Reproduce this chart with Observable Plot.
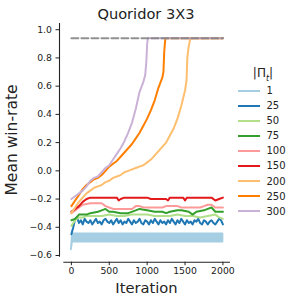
<!DOCTYPE html>
<html><head><meta charset="utf-8">
<script src="https://cdn.jsdelivr.net/npm/d3@7"></script>
<script src="https://cdn.jsdelivr.net/npm/@observablehq/plot@0.6"></script>
<style>
body{margin:0;background:#fff;font-family:"DejaVu Sans",sans-serif;color:#222}
#wrap{position:relative;width:297px;height:304px;overflow:hidden}
#chart{position:absolute;left:0;top:0}
.lbl{position:absolute;white-space:nowrap;line-height:1.15}
.row{position:absolute;left:238px;height:14px;display:flex;align-items:center;font-size:10px;transform:translateY(-50%)}
.sw{width:22px;height:2px;margin-right:6.5px}
</style></head><body>
<div id="wrap"><div id="chart"></div>
<div class="lbl" style="left:146px;top:14px;transform:translate(-50%,-50%);font-size:14.6px">Quoridor 3X3</div>
<div class="lbl" style="left:146.5px;top:288px;transform:translate(-50%,-50%);font-size:14.7px">Iteration</div>
<div class="lbl" style="left:13px;top:140px;transform:translate(-50%,-50%) rotate(-90deg);font-size:15.5px">Mean win-rate</div>
<div class="lbl" id="legtitle" style="left:263px;top:75px;transform:translate(-50%,-50%);font-size:12px">|Π<sub style="font-style:italic;font-size:8px">t</sub>|</div>
<div id="legend"></div>
</div>
<script>
const labels = ["1","25","50","75","100","150","200","250","300"];
const colors = ["#a6cee3","#1f78b4","#b2df8a","#33a02c","#fb9a99","#e31a1c","#fdbf6f","#ff7f00","#cab2d6"];
const xTicks = [0, 500, 1000, 1500, 2000];
const yTicks = [-0.6, -0.4, -0.2, 0.0, 0.2, 0.4, 0.6, 0.8, 1.0];
const xDomain = [-100, 2100];
const yDomain = [-0.612, 1.044];

// series 1: rapidly oscillating band (lower / upper envelope)
const s1Iter = [0, 15, 2000];
const s1Low  = [-0.56, -0.505, -0.505];
const s1High = [-0.56, -0.447, -0.447];

const s25Iter = [0,25,50,75,100,125,150,175,200,225,250,275,300,325,350,375,400,425,450,475,500,525,550,575,600,625,650,675,700,725,750,775,800,825,850,875,900,925,950,975,1000,1025,1050,1075,1100,1125,1150,1175,1200,1225,1250,1275,1300,1325,1350,1375,1400,1425,1450,1475,1500,1525,1550,1575,1600,1625,1650,1675,1700,1725,1750,1775,1800,1825,1850,1875,1900,1925,1950,1975,2000];
const s25Val = [-0.45,-0.40,-0.34,-0.33,-0.37,-0.35,-0.38,-0.34,-0.36,-0.37,-0.35,-0.38,-0.36,-0.34,-0.37,-0.36,-0.38,-0.35,-0.34,-0.36,-0.37,-0.35,-0.38,-0.36,-0.34,-0.37,-0.35,-0.38,-0.36,-0.37,-0.34,-0.36,-0.38,-0.35,-0.37,-0.36,-0.34,-0.37,-0.38,-0.35,-0.36,-0.38,-0.35,-0.37,-0.34,-0.36,-0.38,-0.35,-0.37,-0.36,-0.38,-0.35,-0.37,-0.34,-0.36,-0.38,-0.35,-0.37,-0.34,-0.36,-0.38,-0.35,-0.37,-0.36,-0.38,-0.35,-0.36,-0.34,-0.37,-0.38,-0.35,-0.36,-0.38,-0.36,-0.35,-0.37,-0.38,-0.36,-0.34,-0.35,-0.38];

const s50Iter = [0,50,100,150,200,250,300,400,500,600,700,800,900,1000,1100,1200,1300,1400,1500,1600,1700,1800,1900,1950,2000];
const s50Val  = [-0.39,-0.35,-0.33,-0.33,-0.32,-0.32,-0.32,-0.32,-0.31,-0.32,-0.32,-0.31,-0.31,-0.31,-0.32,-0.32,-0.32,-0.31,-0.32,-0.32,-0.33,-0.32,-0.31,-0.33,-0.34];

const s75Iter = [0,50,100,200,250,350,400,450,500,550,650,750,850,900,1000,1100,1200,1250,1300,1400,1450,1550,1600,1650,1750,1800,1850,1900,2000];
const s75Val  = [-0.35,-0.34,-0.31,-0.31,-0.30,-0.29,-0.28,-0.27,-0.29,-0.29,-0.30,-0.30,-0.28,-0.27,-0.28,-0.29,-0.29,-0.30,-0.29,-0.28,-0.28,-0.29,-0.31,-0.29,-0.28,-0.27,-0.26,-0.29,-0.29];

const s100Iter = [0,50,100,150,250,400,450,500,550,700,800,850,900,950,1200,1250,1400,1450,1700,1750,1800,1850,1900,2000];
const s100Val  = [-0.30,-0.28,-0.26,-0.24,-0.23,-0.23,-0.25,-0.26,-0.27,-0.27,-0.27,-0.25,-0.25,-0.26,-0.26,-0.25,-0.25,-0.26,-0.26,-0.25,-0.24,-0.24,-0.26,-0.26];

const s150Iter = [0,50,100,150,200,250,600,625,650,700,1000,1050,1250,1275,1300,1475,1500,1525,1850,1900,1950,2000];
const s150Val  = [-0.29,-0.27,-0.25,-0.22,-0.20,-0.19,-0.19,-0.21,-0.20,-0.19,-0.19,-0.20,-0.20,-0.21,-0.19,-0.19,-0.21,-0.19,-0.19,-0.21,-0.20,-0.19];

const s200Iter = [0,50,100,150,200,250,300,350,400,450,500,550,600,650,700,750,800,850,900,950,1000,1050,1100,1150,1200,1250,1300,1350,1400,1450,1500,1520,1530,1545,1570,2000];
const s200Val  = [-0.30,-0.26,-0.22,-0.19,-0.16,-0.14,-0.12,-0.11,-0.10,-0.08,-0.07,-0.05,-0.04,-0.03,-0.01,0.00,0.01,0.02,0.03,0.04,0.06,0.08,0.11,0.14,0.17,0.20,0.25,0.30,0.37,0.46,0.57,0.64,0.80,0.87,0.94,0.94];

const s250Iter = [0,50,100,150,200,250,300,350,400,450,500,550,600,650,700,750,800,850,900,950,1000,1050,1100,1150,1200,1215,1225,1240,2000];
const s250Val  = [-0.25,-0.21,-0.17,-0.13,-0.10,-0.08,-0.06,-0.05,-0.03,0.00,0.03,0.05,0.07,0.10,0.13,0.16,0.19,0.23,0.27,0.32,0.37,0.43,0.50,0.59,0.66,0.70,0.84,0.94,0.94];

const s300Iter = [0,50,100,150,200,250,300,350,400,450,500,550,600,650,700,750,800,850,900,950,975,990,1000,1010,2000];
const s300Val  = [-0.20,-0.18,-0.16,-0.14,-0.11,-0.07,-0.05,-0.04,-0.01,0.02,0.04,0.08,0.12,0.16,0.21,0.27,0.34,0.44,0.56,0.63,0.68,0.78,0.90,0.94,0.94];

const optimalIter = [0, 2000];
const optimalVal = [0.94, 0.94];

const lineSeries = [
  ["25", s25Iter, s25Val], ["50", s50Iter, s50Val], ["75", s75Iter, s75Val],
  ["100", s100Iter, s100Val], ["150", s150Iter, s150Val], ["200", s200Iter, s200Val],
  ["250", s250Iter, s250Val], ["300", s300Iter, s300Val]
];
const lineData = lineSeries.flatMap(([s, xs, ys]) => xs.map((x, i) => ({s, x, y: ys[i]})));
const bandData = s1Iter.map((x, i) => ({x, lo: s1Low[i], hi: s1High[i]}));
const optData = optimalIter.map((x, i) => ({x, y: optimalVal[i]}));

const fmt = d => d.toFixed(1).replace("-", "\u2212");
const ink = "#222";

const chart = Plot.plot({
  width: 297, height: 304,
  marginLeft: 63.3, marginRight: 67, marginTop: 23, marginBottom: 47.3,
  style: {background: "transparent", fontFamily: "DejaVu Sans", fontSize: "9.3px", color: ink, overflow: "visible"},
  x: {domain: xDomain, axis: null},
  y: {domain: yDomain, axis: null},
  color: {domain: labels, range: colors},
  marks: [
    Plot.ruleX([xDomain[0]], {y1: yDomain[0], y2: yDomain[1], dx: -4.3, stroke: ink, strokeWidth: 1.1}),
    Plot.ruleY([yDomain[0]], {x1: xDomain[0], x2: xDomain[1], dy: 5, stroke: ink, strokeWidth: 1.1}),
    Plot.axisY(yTicks, {anchor: "left", tickSize: 3.5, tickPadding: 4, tickFormat: fmt, dx: -4.3, label: null, stroke: ink, fill: ink}),
    Plot.axisX(xTicks, {anchor: "bottom", tickSize: 3.5, tickPadding: 2, tickFormat: d => String(d), dy: 5, label: null, stroke: ink, fill: ink}),
    Plot.areaY(bandData, {x: "x", y1: "lo", y2: "hi", fill: colors[0], stroke: colors[0], strokeWidth: 1.8}),
    Plot.line(lineData, {x: "x", y: "y", z: "s", stroke: "s", strokeWidth: 2}),
    Plot.line(optData, {x: "x", y: "y", stroke: "#7f7f7f", strokeOpacity: 0.85, strokeWidth: 2, strokeDasharray: "7,3"})
  ]
});
document.getElementById("chart").appendChild(chart);

const leg = document.getElementById("legend");
labels.forEach((l, i) => {
  const row = document.createElement("div");
  row.className = "row";
  row.style.top = (90.7 + i * 15.05) + "px";
  row.innerHTML = `<div class="sw" style="background:${colors[i]}"></div><span>${l}</span>`;
  leg.appendChild(row);
});
</script>
</body></html>
